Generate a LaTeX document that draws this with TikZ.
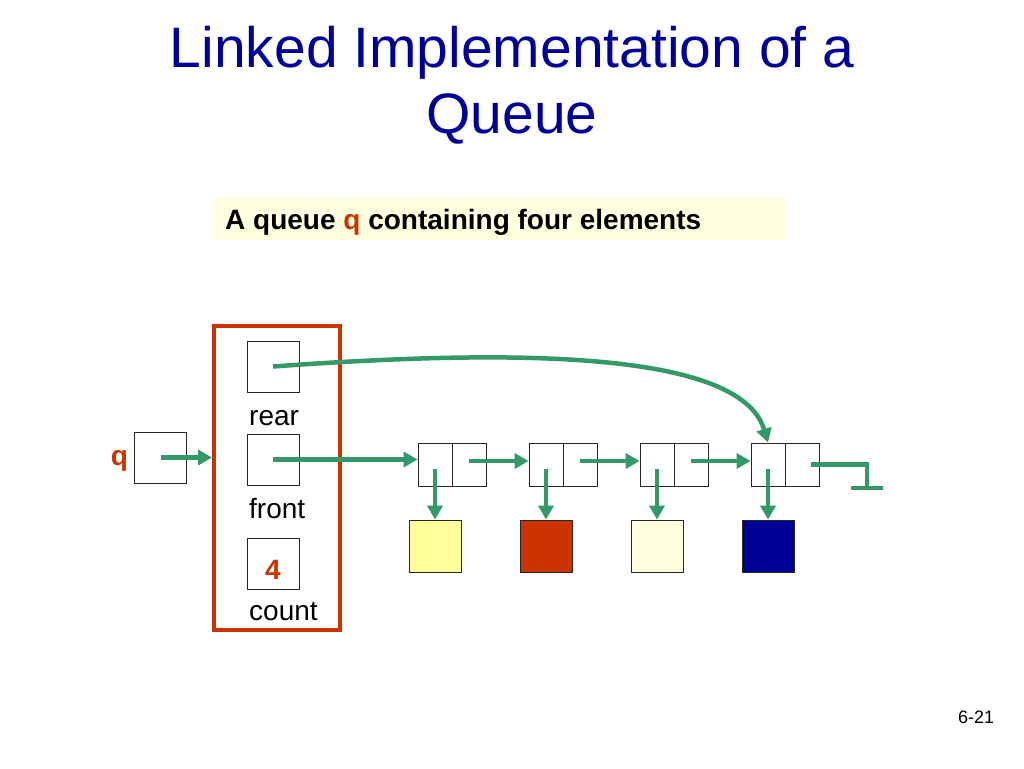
\documentclass[tikz,border=0pt]{standalone}
\usepackage{fontspec}
\setmainfont{Liberation Sans}
\usetikzlibrary{positioning}
\usetikzlibrary{arrows.meta}
\definecolor{linkgreen}{HTML}{339966}
\definecolor{qred}{HTML}{CC3300}
\definecolor{titleblue}{HTML}{000099}
\definecolor{capyellow}{HTML}{FFFFE0}
\definecolor{elemyellow}{HTML}{FFFF99}
\definecolor{elemcream}{HTML}{FFFFDD}
\definecolor{elemblue}{HTML}{000099}
\tikzset{
	cell/.style={rectangle,draw=black!85,line width=0.8pt,minimum width=52pt,minimum height=51pt,inner sep=0pt},
	half/.style={rectangle,draw=black!85,line width=0.8pt,minimum width=34pt,minimum height=43pt,inner sep=0pt},
	elem/.style={rectangle,draw=black!85,line width=0.8pt,minimum size=52pt,inner sep=0pt},
	lbl/.style={font=\fontsize{28}{30}\selectfont,anchor=base west,inner sep=0pt}
}
\begin{document}
\begin{tikzpicture}[x=1pt,y=-1pt,
            link/.style={draw=linkgreen,line width=4.5pt,-{Triangle[length=14pt,width=15pt]}},
            nilline/.style={draw=linkgreen,line width=4.5pt}]
            \useasboundingbox (0,0) rectangle (1024,768);
            \node [font=\fontsize{57}{66}\selectfont,text=titleblue,align=center,inner sep=0pt] (title) at (512,85) {Linked Implementation of a\\Queue};
            \node [fill=capyellow,minimum width=572pt,minimum height=43pt,inner sep=0pt] (capbox) at (499,218.5) {};
            \node [font=\bfseries\fontsize{28}{30}\selectfont,anchor=base west,inner sep=0pt] (caption) at (225,229) {A queue \textcolor{qred}{q} containing four elements};
            % the queue record
            \node [draw=qred,line width=4pt,minimum width=126pt,minimum height=304pt,inner sep=0pt] (queue) at (277,478) {};
            \node [cell] (qptr) at (160.5,457.5) {};
            \node [font=\bfseries\fontsize{28}{30}\selectfont,text=qred,anchor=base,inner sep=0pt] (qname) at (119.5,465) {q};
            \node [cell] (rear) at (273,366.5) {};
            \node [lbl] (rearlbl) at (249,425) {rear};
            \node [cell] (front) at (273,459.5) {};
            \node [lbl] (frontlbl) at (249,518) {front};
            \node [cell] (count) at (273,563.5) {};
            \node [font=\bfseries\fontsize{28}{30}\selectfont,text=qred,anchor=base,inner sep=0pt] (countval) at (273,579) {4};
            \node [lbl] (countlbl) at (249,620) {count};
            % the linked nodes
            \foreach \i/\c in {1/elemyellow,2/qred,3/elemcream,4/elemblue} {
              \node [half] (l\i) at ({435+111*(\i-1)},464.5) {};
              \node [half,right=-0.8pt of l\i] (r\i) {};
              \node [elem,fill=\c] (e\i) at ({435+111*(\i-1)},546) {};
              \draw [link] ([yshift=-4pt]l\i.center) -- (e\i.north);
            }
            \foreach \i/\j in {1/2,2/3,3/4}
              \draw [link] ([yshift=3.5pt]r\i.center) -- ([yshift=3.5pt]l\j.west);
            \draw [link] (qptr.center) -- (qptr.center -| queue.west);
            \draw [link] (front.center) -- (front.center -| l1.west);
            \draw [link] (rear.center) .. controls (500,350) and (740,348) .. (l4.north);
            \coordinate (nil) at (867,488);
            \draw [nilline] ([xshift=-8pt]r4.east) -| (nil);
            \draw [nilline] ([xshift=-16pt]nil) -- ([xshift=16pt]nil);
            \node [font=\fontsize{18}{20}\selectfont] (page) at (976,717) {6-21};
          \end{tikzpicture}
\end{document}
